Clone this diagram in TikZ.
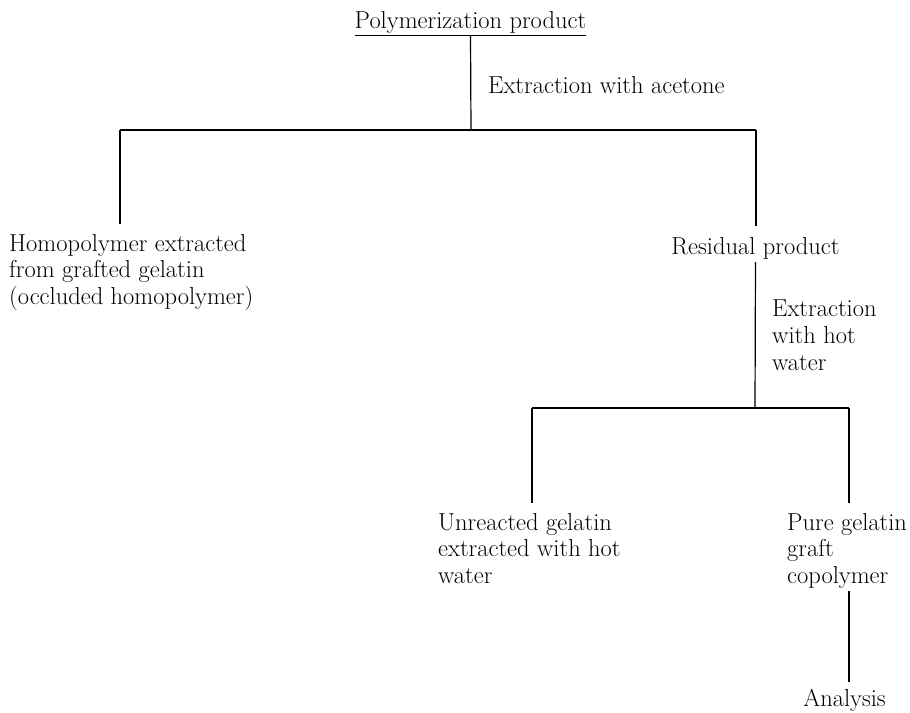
\documentclass[tikz,border=0pt]{standalone}
\begin{document}
\begin{tikzpicture}[x=1pt,y=-1pt,
  lbl/.style={inner sep=0pt, align=left, font=\fontsize{24.5}{26.7}\selectfont},
  conn/.style={line width=1.2pt}]
\useasboundingbox (0,0) rectangle (910,712);
% labels
\node[lbl, anchor=base, inner ysep=2.25pt] (poly) at (470.5,28) {Polymerization product};
\node[lbl, anchor=base west] (acet) at (488,93) {Extraction with acetone};
\node[lbl, anchor=north west] (homo) at (9,232.3) {\strut Homopolymer extracted\\from grafted gelatin\\(occluded homopolymer)};
\node[lbl, anchor=base] (resid) at (755.5,254) {Residual product};
\node[lbl, anchor=north west] (hot) at (772,298) {\strut Extraction\\with hot\\water};
\node[lbl, anchor=north west] (unre) at (438,511.3) {\strut Unreacted gelatin\\extracted with hot\\water};
\node[lbl, anchor=north west] (pure) at (787,511.3) {\strut Pure gelatin\\graft\\copolymer};
\node[lbl, anchor=base] (anal) at (844.5,706) {Analysis};
% junctions
\coordinate (j1) at (471,130);
\coordinate (jl) at (120,130);
\coordinate (jr) at (756,130);
\coordinate (j2) at (755,408);
\coordinate (j2l) at (532,408);
\coordinate (j2r) at (849,408);
% connectors
\draw[conn] (poly.south west) -- (poly.south east);
\draw[conn] (poly.south) -- (j1);
\draw[conn] (jl) -- (jr);
\draw[conn, shorten >=8pt] (jl) -- (jl |- homo.north);
\draw[conn, shorten >=11pt] (jr) -- (jr |- resid.north);
\draw[conn, shorten <=3.25pt] (resid.south) -- (j2);
\draw[conn] (j2l) -- (j2r);
\draw[conn, shorten >=8.3pt] (j2l) -- (j2l |- unre.north);
\draw[conn, shorten >=8.3pt] (j2r) -- (j2r |- pure.north);
\draw[conn, shorten <=2.25pt, shorten >=6pt] (j2r |- pure.south) -- (j2r |- anal.north);
\end{tikzpicture}
\end{document}
